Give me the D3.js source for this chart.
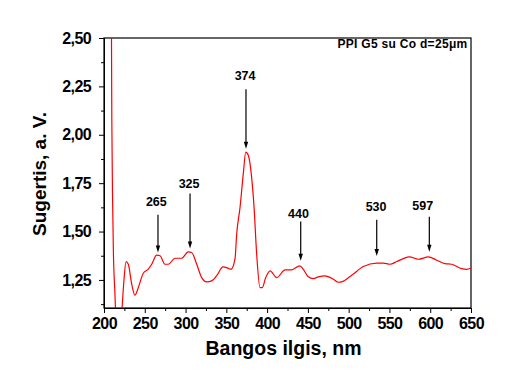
<!DOCTYPE html>
<html>
<head>
<meta charset="utf-8">
<script src="https://cdn.jsdelivr.net/npm/d3@7"></script>
<style>
  body { margin: 0; background: #fff; }
  svg { display: block; }
  text { font-family: "Liberation Sans", Arial, sans-serif; font-weight: bold; fill: #000; }
</style>
</head>
<body>
<div id="chart"></div>
<script>
// spectrum: wavelength (nm) and absorbance
var wavelength = [208.5, 209.6, 210.4, 211.5, 213.5, 215, 218, 221, 222.4, 224.5,
  227, 229.8, 234, 238, 242, 248, 254, 258.5, 264.6, 268.7,
  274.8, 278.9, 287, 295, 303.4, 307.5, 313.7, 319.8, 326, 332,
  338, 346, 352.4, 355.7, 360.6, 362.7, 366.8, 370.8, 373.8, 377,
  381, 384, 387.2, 391.3, 394, 398.3, 403.6, 411.8, 422, 430,
  440, 444.4, 450.5, 456.7, 462.9, 471, 481.2, 487.3, 491.4, 503.7,
  518, 534.4, 542.5, 550.7, 558.9, 567, 574.4, 585.4, 597.7, 608,
  618.1, 626.3, 638.6, 644.7, 650];
var absorbance = [3.2, 2.07, 1.70, 1.40, 1.17, 1.0, 0.92, 1.02, 1.12, 1.25,
  1.345, 1.331, 1.228, 1.171, 1.21, 1.283, 1.305, 1.331, 1.378, 1.375,
  1.331, 1.331, 1.362, 1.362, 1.395, 1.392, 1.331, 1.262, 1.24, 1.245,
  1.271, 1.317, 1.31, 1.305, 1.357, 1.487, 1.625, 1.798, 1.910, 1.893,
  1.781, 1.625, 1.383, 1.21, 1.21, 1.262, 1.297, 1.262, 1.302, 1.302,
  1.323, 1.305, 1.266, 1.257, 1.266, 1.271, 1.254, 1.238, 1.24, 1.274,
  1.319, 1.337, 1.337, 1.331, 1.345, 1.36, 1.369, 1.357, 1.369, 1.352,
  1.334, 1.331, 1.308, 1.305, 1.312];

// peak annotations
var peakLabels = ["265", "325", "374", "440", "530", "597"];
var peakX      = [266.2, 305.5, 374.1, 441.2, 534.4, 598.9];
var arrowTip   = [1.392, 1.412, 1.928, 1.349, 1.374, 1.395];
var arrowTop   = [1.587, 1.696, 2.235, 1.552, 1.561, 1.577];
var labelY     = [1.634, 1.727, 2.282, 1.572, 1.604, 1.613];
var labelX     = [264.2, 304.3, 373.0, 438.5, 533.6, 590.8];

var xTicks = [200, 250, 300, 350, 400, 450, 500, 550, 600, 650];
var yTicks = [1.25, 1.50, 1.75, 2.00, 2.25, 2.50];
var sampleName = "PPI G5 su Co d=25\u03bcm";

var W = 512, H = 388;
var margin = {top: 38, right: 41, bottom: 80, left: 104};
var w = W - margin.left - margin.right;
var h = H - margin.top - margin.bottom;

var svg = d3.select("#chart").append("svg")
    .attr("width", W)
    .attr("height", H);

var g = svg.append("g")
    .attr("transform", "translate(" + margin.left + "," + margin.top + ")");

var x = d3.scaleLinear().domain([200, 650]).range([0, w]);
var y = d3.scaleLinear().domain([1.105, 2.5]).range([h, 0]);

var comma = function(d){ return d3.format(".2f")(d).replace(".", ","); };

// minor ticks
g.append("g")
    .attr("transform", "translate(0," + h + ")")
    .call(d3.axisBottom(x).tickValues(d3.range(225, 650, 50)).tickSize(3).tickSizeOuter(0).tickFormat(""));
g.append("g")
    .call(d3.axisLeft(y).tickValues([1.125, 1.375, 1.625, 1.875, 2.125, 2.375]).tickSize(3).tickSizeOuter(0).tickFormat(""));

// major ticks
var xAxis = g.append("g")
    .attr("transform", "translate(0," + h + ")")
    .call(d3.axisBottom(x).tickValues(xTicks).tickSize(5).tickPadding(5).tickSizeOuter(0));
var yAxis = g.append("g")
    .call(d3.axisLeft(y).tickValues(yTicks).tickSize(5).tickPadding(8).tickSizeOuter(0).tickFormat(comma));

svg.selectAll(".tick text")
    .style("font-family", "'Liberation Sans', Arial, sans-serif")
    .style("font-weight", "bold")
    .style("font-size", "16px")
    .style("letter-spacing", "-0.6px");
svg.selectAll(".tick line").attr("stroke", "#000");
svg.selectAll(".domain").attr("stroke", "#000");

// frame
g.append("rect")
    .attr("width", w).attr("height", h)
    .attr("fill", "none").attr("stroke", "#000").attr("stroke-width", 1.2);

// clip for curve
g.append("clipPath").attr("id", "clip")
  .append("rect").attr("width", w).attr("height", h);

var pts = wavelength.map(function(d, i){ return [d, absorbance[i]]; });
var line = d3.line()
    .x(function(d){ return x(d[0]); })
    .y(function(d){ return y(d[1]); })
    .curve(d3.curveMonotoneX);

g.append("path")
    .datum(pts)
    .attr("clip-path", "url(#clip)")
    .attr("d", line)
    .attr("fill", "none")
    .attr("stroke", "#ff0000")
    .attr("stroke-width", 1.2);

// arrows and labels
var ann = g.append("g");
peakLabels.forEach(function(lab, i){
    var ax = x(peakX[i]);
    var tip = y(arrowTip[i]);
    ann.append("line")
        .attr("x1", ax).attr("x2", ax)
        .attr("y1", y(arrowTop[i])).attr("y2", tip - 5)
        .attr("stroke", "#000").attr("stroke-width", 1.2);
    ann.append("path")
        .attr("d", "M" + ax + "," + tip + "L" + (ax - 2.2) + "," + (tip - 7) + "L" + (ax + 2.2) + "," + (tip - 7) + "Z")
        .attr("fill", "#000");
    ann.append("text")
        .attr("x", x(labelX[i])).attr("y", y(labelY[i]))
        .attr("text-anchor", "middle")
        .style("font-size", "12.5px")
        .text(lab);
});

// sample name
g.append("text")
    .attr("x", w - 3.5).attr("y", 10)
    .attr("text-anchor", "end")
    .style("font-size", "12px")
    .style("letter-spacing", "0.3px")
    .text(sampleName);

// axis titles
svg.append("text")
    .attr("x", margin.left + w / 2 - 4).attr("y", 355)
    .attr("text-anchor", "middle")
    .style("font-size", "19.5px")
    .text("Bangos ilgis, nm");

svg.append("text")
    .attr("transform", "translate(46," + 174 + ") rotate(-90)")
    .attr("text-anchor", "middle")
    .style("font-size", "19px")
    .text("Sugertis, a. V.");
</script>
</body>
</html>
